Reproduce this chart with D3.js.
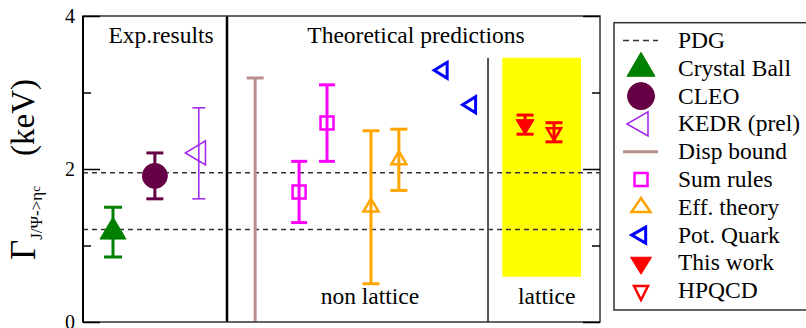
<!DOCTYPE html>
<html>
<head>
<meta charset="utf-8">
<script src="https://cdn.jsdelivr.net/npm/d3@7"></script>
<style>
body { margin: 0; background: #fff; }
svg, svg text { font-family: "Liberation Serif", "Times New Roman", serif; }
</style>
</head>
<body>
<div id="chart"></div>
<script>
const width = 806, height = 328;

// y axis (keV)
const yMajor = [0, 2, 4];
const yMinor = [1, 3];

// PDG band edges
const pdgLines = [1.21, 1.95];

// points: x is a slot on a 0..10 axis, y value with error range lo..hi
const crystalBall = [{x: 0.58, y: 1.18, lo: 0.85, hi: 1.50}];
const cleo = [{x: 1.39, y: 1.91, lo: 1.61, hi: 2.21}];
const kedr = [{x: 2.24, y: 2.21, lo: 1.61, hi: 2.80}];
const dispBound = [{x: 3.33, lo: 0, hi: 3.19}];
const sumRules = [{x: 4.18, y: 1.70, lo: 1.30, hi: 2.10}, {x: 4.72, y: 2.60, lo: 2.10, hi: 3.10}];
const effTheory = [{x: 5.57, y: 1.50, lo: 0.50, hi: 2.50}, {x: 6.11, y: 2.12, lo: 1.72, hi: 2.52}];
const potQuark = [{x: 6.96, y: 3.29}, {x: 7.51, y: 2.84}];
const thisWork = [{x: 8.55, y: 2.58, lo: 2.455, hi: 2.705}];
const hpqcd = [{x: 9.11, y: 2.48, lo: 2.355, hi: 2.605}];

// regions
const expSeparator = 2.785;
const latticeSeparator = {x: 7.834, top: 3.455};
const latticeBand = {x0: 8.11, x1: 9.632, y0: 0.592, y1: 3.455};

const legendLabels = ["PDG", "Crystal Ball", "CLEO", "KEDR (prel)", "Disp bound",
  "Sum rules", "Eff. theory", "Pot. Quark", "This work", "HPQCD"];

const series = [
  {name: "Crystal Ball", data: crystalBall, color: "#008000", shape: "up", w: 26, h: 22, lw: 28, lh: 24, fill: true, sw: 1, ebw: 3, cap: 18},
  {name: "CLEO", data: cleo, color: "#660044", shape: "circle", w: 25, lw: 27, fill: true, sw: 1, ebw: 3, cap: 17},
  {name: "KEDR (prel)", data: kedr, color: "#a020f0", shape: "left", w: 20, h: 24, lw: 21, lh: 24, fill: false, sw: 1.5, ebw: 1.5, cap: 13},
  {name: "Disp bound", data: dispBound, color: "#bc8f8f", shape: "line", ebw: 3, cap: 17, topOnly: true},
  {name: "Sum rules", data: sumRules, color: "#ff00ff", shape: "square", w: 13, lw: 13, fill: false, sw: 2.5, ebw: 3, cap: 16},
  {name: "Eff. theory", data: effTheory, color: "#ffa500", shape: "up", w: 15, h: 13, lw: 19, lh: 14, fill: false, sw: 2.5, ebw: 3, cap: 17},
  {name: "Pot. Quark", data: potQuark, color: "#0000ff", shape: "left", w: 13, h: 16, lw: 14, lh: 16, fill: false, sw: 3},
  {name: "This work", data: thisWork, color: "#ff0000", shape: "down", w: 18, h: 15, lw: 21, lh: 17, fill: true, sw: 1, ebw: 3, cap: 17},
  {name: "HPQCD", data: hpqcd, color: "#ff0000", shape: "down", w: 14, h: 12, lw: 14, lh: 14, fill: false, sw: 2.5, ebw: 3, cap: 17}
];

function shapePath(shape, w, h) {
  switch (shape) {
    case "up": return `M0,${-2 * h / 3}L${w / 2},${h / 3}L${-w / 2},${h / 3}Z`;
    case "down": return `M0,${2 * h / 3}L${w / 2},${-h / 3}L${-w / 2},${-h / 3}Z`;
    case "left": return `M${-2 * w / 3},0L${w / 3},${-h / 2}L${w / 3},${h / 2}Z`;
    case "square": return `M${-w / 2},${-w / 2}h${w}v${w}h${-w}Z`;
    case "circle": return d3.symbol(d3.symbolCircle, Math.PI * w * w / 4)();
  }
  return "";
}

const x = d3.scaleLinear().domain([0, 10]).range([83, 600]);
const y = d3.scaleLinear().domain([0, 4]).range([322, 16]);

const svg = d3.select("#chart").append("svg")
  .attr("width", width)
  .attr("height", height)
  .style("font-family", "'Liberation Serif', 'Times New Roman', serif");

// lattice band
svg.append("rect")
  .attr("x", x(latticeBand.x0))
  .attr("y", y(latticeBand.y1))
  .attr("width", x(latticeBand.x1) - x(latticeBand.x0))
  .attr("height", y(latticeBand.y0) - y(latticeBand.y1))
  .attr("fill", "#ffff00");

// PDG dashed lines
svg.selectAll(".pdg").data(pdgLines).join("line")
  .attr("x1", x(0)).attr("x2", x(10))
  .attr("y1", d => y(d)).attr("y2", d => y(d))
  .attr("stroke", "#333").attr("stroke-width", 1.5)
  .attr("stroke-dasharray", "5,4");

// separators
svg.append("line")
  .attr("x1", x(expSeparator)).attr("x2", x(expSeparator))
  .attr("y1", y(0)).attr("y2", y(4))
  .attr("stroke", "#000").attr("stroke-width", 2.5);
svg.append("line")
  .attr("x1", x(latticeSeparator.x)).attr("x2", x(latticeSeparator.x))
  .attr("y1", y(0)).attr("y2", y(latticeSeparator.top))
  .attr("stroke", "#555").attr("stroke-width", 2);

// error bars and markers
series.forEach(s => {
  const g = svg.append("g");
  const withErr = s.data.filter(d => d.lo !== undefined);
  g.selectAll(".eb").data(withErr).join("line")
    .attr("x1", d => x(d.x)).attr("x2", d => x(d.x))
    .attr("y1", d => y(d.lo)).attr("y2", d => y(d.hi))
    .attr("stroke", s.color).attr("stroke-width", s.ebw);
  const caps = [];
  withErr.forEach(d => {
    caps.push({x: d.x, v: d.hi});
    if (!s.topOnly) caps.push({x: d.x, v: d.lo});
  });
  g.selectAll(".cap").data(caps).join("line")
    .attr("x1", d => x(d.x) - s.cap / 2).attr("x2", d => x(d.x) + s.cap / 2)
    .attr("y1", d => y(d.v)).attr("y2", d => y(d.v))
    .attr("stroke", s.color).attr("stroke-width", s.ebw);
  if (s.shape !== "line") {
    g.selectAll(".mk").data(s.data).join("path")
      .attr("transform", d => `translate(${x(d.x)},${y(d.y)})`)
      .attr("d", shapePath(s.shape, s.w, s.h))
      .attr("fill", s.fill ? s.color : "none")
      .attr("stroke", s.color)
      .attr("stroke-width", s.sw)
      .attr("stroke-linejoin", "miter");
  }
});

// frame
svg.append("rect")
  .attr("x", x(0)).attr("y", y(4))
  .attr("width", x(10) - x(0)).attr("height", y(0) - y(4))
  .attr("fill", "none").attr("stroke", "#333").attr("stroke-width", 1.5);
svg.append("line")
  .attr("x1", x(0)).attr("x2", x(0)).attr("y1", y(0)).attr("y2", y(4))
  .attr("stroke", "#000").attr("stroke-width", 2);

// axes (ticks point inward)
function styleAxis(g) {
  g.attr("font-family", null);
  g.select(".domain").remove();
  g.selectAll(".tick line").attr("stroke", "#000").attr("stroke-width", 1.5);
  g.selectAll("text").attr("font-size", 20).attr("fill", "#000")
    .style("font-family", "'Liberation Serif', 'Times New Roman', serif");
}
svg.append("g").attr("transform", `translate(${x(0)},0)`)
  .call(d3.axisLeft(y).tickValues(yMajor).tickSize(-17).tickPadding(8).tickFormat(d3.format("d")))
  .call(styleAxis);
svg.append("g").attr("transform", `translate(${x(0)},0)`)
  .call(d3.axisLeft(y).tickValues(yMinor).tickSize(-8).tickFormat(""))
  .call(styleAxis);
svg.append("g").attr("transform", `translate(${x(10)},0)`)
  .call(d3.axisRight(y).tickValues(yMajor).tickSize(-17).tickFormat(""))
  .call(styleAxis);
svg.append("g").attr("transform", `translate(${x(10)},0)`)
  .call(d3.axisRight(y).tickValues(yMinor).tickSize(-8).tickFormat(""))
  .call(styleAxis);

// region labels
const labels = [
  {t: "Exp.results", x: 1.51, y: 3.647},
  {t: "Theoretical predictions", x: 6.44, y: 3.647},
  {t: "non lattice", x: 5.55, y: 0.235},
  {t: "lattice", x: 8.97, y: 0.235}
];
svg.selectAll(".lbl").data(labels).join("text")
  .attr("x", d => x(d.x)).attr("y", d => y(d.y))
  .attr("text-anchor", "middle")
  .attr("font-size", 23.5)
  .text(d => d.t);

// y axis title
const title = svg.append("text")
  .attr("transform", "translate(35,260) rotate(-90)")
  .attr("fill", "#000");
title.append("tspan").attr("font-size", 35).text("Γ");
title.append("tspan").attr("font-size", 17).attr("dy", 7).text("J/Ψ->η");
title.append("tspan").attr("font-size", 13).attr("dy", -2).text("c");
title.append("tspan").attr("font-size", 33).attr("dy", -6).attr("dx", 30).text("(keV)");

// legend
const lg = svg.append("g");
lg.append("rect")
  .attr("x", 614).attr("y", 22.7)
  .attr("width", 200).attr("height", 287.3)
  .attr("fill", "#fff").attr("stroke", "#333").attr("stroke-width", 1.5);

const rowY = i => 40.5 + i * 27.8;
const symX = 641;

legendLabels.forEach((name, i) => {
  const cy = rowY(i);
  lg.append("text")
    .attr("x", 678).attr("y", cy + 7.5)
    .attr("font-size", 23.5)
    .text(name);
  if (name === "PDG") {
    lg.append("line")
      .attr("x1", 623).attr("x2", 658).attr("y1", cy).attr("y2", cy)
      .attr("stroke", "#333").attr("stroke-width", 1.5)
      .attr("stroke-dasharray", "6,4");
    return;
  }
  const s = series.find(d => d.name === name);
  if (s.shape === "line") {
    lg.append("line")
      .attr("x1", 623).attr("x2", 658).attr("y1", cy).attr("y2", cy)
      .attr("stroke", s.color).attr("stroke-width", 3);
    return;
  }
  lg.append("path")
    .attr("transform", `translate(${symX},${cy})`)
    .attr("d", shapePath(s.shape, s.lw, s.lh))
    .attr("fill", s.fill ? s.color : "none")
    .attr("stroke", s.color)
    .attr("stroke-width", s.sw);
});
</script>
</body>
</html>
